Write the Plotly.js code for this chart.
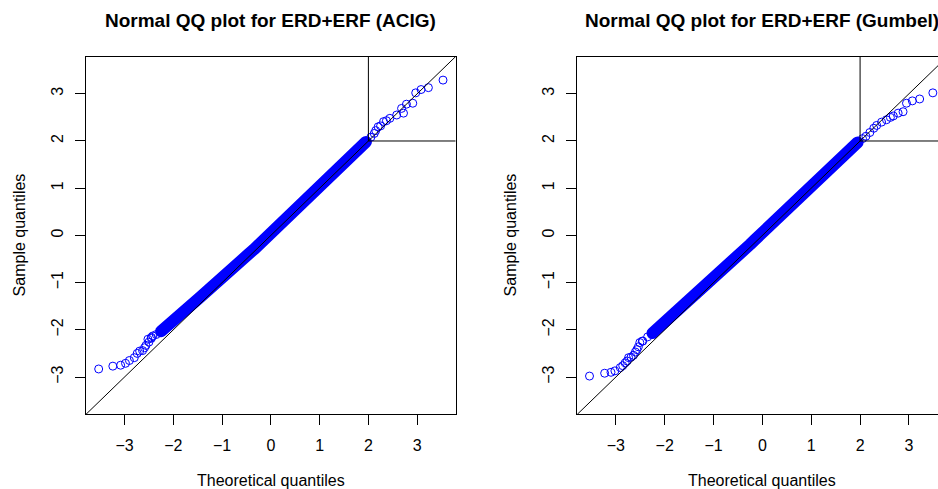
<!DOCTYPE html>
<html>
<head>
<meta charset="utf-8">
<script src="https://cdn.plot.ly/plotly-3.0.1.min.js"></script>
<style>
html,body{margin:0;padding:0;overflow:hidden;background:#fff;width:938px;height:489px;}
#chart{width:960px;height:489px;}
#chart .scatterlayer .js-line{stroke-linecap:round;stroke-linejoin:round;}
</style>
</head>
<body>
<div id="chart"></div>
<script>
// ---- data ----
const panelTitles = ["Normal QQ plot for ERD+ERF (ACIG)", "Normal QQ plot for ERD+ERF (Gumbel)"];
const xAxisTitle = "Theoretical quantiles";
const yAxisTitle = "Sample quantiles";
const tickVals = [-3, -2, -1, 0, 1, 2, 3];
const axisRange = [-3.79, 3.79];
const threshold = 2;
const refLine = [-4, 4];

// dense central band (theoretical, sample)
const bandX = [-2.45,-2.35,-2.25,-2.15,-2.05,-1.95,-1.85,-1.75,-1.65,-1.55,-1.45,-1.35,-1.25,-1.15,-1.05,-0.95,-0.85,-0.75,-0.65,-0.55,-0.45,-0.35,-0.25,-0.15,-0.05,0.05,0.15,0.25,0.35,0.45,0.55,0.65,0.75,0.85,0.95,1.05,1.15,1.25,1.35,1.45,1.55,1.65,1.75,1.85,1.95,2.05];
const acigBandY = [-2.16,-2.10,-2.03,-1.95,-1.86,-1.78,-1.68,-1.59,-1.50,-1.40,-1.31,-1.21,-1.12,-1.03,-0.94,-0.85,-0.76,-0.67,-0.57,-0.48,-0.39,-0.30,-0.20,-0.11,-0.02,0.08,0.18,0.28,0.38,0.48,0.58,0.68,0.78,0.88,0.98,1.08,1.17,1.27,1.37,1.47,1.57,1.67,1.77,1.88,1.98,2.08];
const gumbelBandY = [-2.24,-2.15,-2.07,-1.98,-1.89,-1.80,-1.71,-1.62,-1.53,-1.44,-1.35,-1.26,-1.16,-1.07,-0.97,-0.87,-0.78,-0.68,-0.58,-0.48,-0.39,-0.29,-0.19,-0.09,0.01,0.10,0.20,0.30,0.40,0.50,0.60,0.70,0.80,0.90,1.00,1.10,1.20,1.30,1.39,1.49,1.59,1.68,1.78,1.88,1.97,2.05];

// sparse tail points
const acigTailX = [-3.53,-3.24,-3.08,-2.98,-2.90,-2.80,-2.74,-2.69,-2.63,-2.59,-2.56,-2.52,-2.50,-2.45,-2.42, 2.12,2.15,2.20,2.25,2.31,2.37,2.44,2.58,2.68,2.72,2.78,2.91,2.97,3.08,3.23,3.53];
const acigTailY = [-2.83,-2.77,-2.75,-2.71,-2.65,-2.59,-2.50,-2.45,-2.44,-2.38,-2.33,-2.20,-2.26,-2.18,-2.13, 2.16,2.22,2.30,2.32,2.41,2.43,2.48,2.55,2.69,2.59,2.78,2.80,3.02,3.09,3.13,3.29];
const gumbelTailX = [-3.54,-3.23,-3.10,-3.02,-2.91,-2.86,-2.81,-2.77,-2.74,-2.69,-2.64,-2.60,-2.57,-2.54,-2.51,-2.46, 2.12,2.20,2.28,2.34,2.44,2.54,2.62,2.68,2.78,2.88,2.95,3.07,3.22,3.49];
const gumbelTailY = [-2.98,-2.92,-2.90,-2.87,-2.80,-2.76,-2.70,-2.66,-2.59,-2.58,-2.54,-2.47,-2.42,-2.36,-2.27,-2.24, 2.10,2.18,2.27,2.33,2.40,2.45,2.50,2.53,2.59,2.62,2.80,2.85,2.89,3.02];

// ---- styling ----
const blue = "#0000FF";
const font = "Liberation Sans, Arial, Helvetica, sans-serif";
const W = 960, H = 489;
const coreLo = -2.3, coreHi = 2.0;

function panelTraces(bandY, tailX, tailY, xa, ya) {
  const coreX = [], coreY = [];
  bandX.forEach((v, i) => { if (v >= coreLo && v <= coreHi) { coreX.push(v); coreY.push(bandY[i]); } });
  return [
    {x: coreX, y: coreY, xaxis: xa, yaxis: ya, mode: "lines", type: "scatter",
     line: {color: blue, width: 12}, hoverinfo: "skip", showlegend: false},
    {x: bandX, y: bandY, xaxis: xa, yaxis: ya, mode: "markers", type: "scatter",
     marker: {symbol: "circle-open", size: 8, color: blue, line: {width: 1, color: blue}},
     hoverinfo: "skip", showlegend: false},
    {x: tailX, y: tailY, xaxis: xa, yaxis: ya, mode: "markers", type: "scatter",
     marker: {symbol: "circle-open", size: 8, color: blue, line: {width: 1, color: blue}},
     hoverinfo: "skip", showlegend: false},
    {x: refLine, y: refLine, xaxis: xa, yaxis: ya, mode: "lines", type: "scatter",
     line: {color: "black", width: 1}, hoverinfo: "skip", showlegend: false}
  ];
}

const data = [].concat(
  panelTraces(acigBandY, acigTailX, acigTailY, "x", "y"),
  panelTraces(gumbelBandY, gumbelTailX, gumbelTailY, "x2", "y2")
);

const yDom = [1 - 414.3 / H, 1 - 56.5 / H];
const xDom1 = [86 / W, 455.7 / W];
const xDom2 = [577.3 / W, 947.5 / W];

function axis(dom, anchor, isY) {
  const a = {
    domain: dom, anchor: anchor, range: axisRange, autorange: false,
    tickmode: "array", tickvals: tickVals,
    ticks: "outside", ticklen: 10, tickwidth: 1, tickcolor: "black",
    showline: true, linecolor: "black", linewidth: 1, mirror: true,
    showgrid: false, zeroline: false,
    tickfont: {family: font, size: 16, color: "black"},
    ticklabelstandoff: 6
  };
  if (isY) { a.tickangle = -90; }
  return a;
}

function boxShapes(xr, yr) {
  return [
    {type: "line", xref: xr, yref: yr, x0: threshold, x1: threshold, y0: threshold, y1: axisRange[1], line: {color: "black", width: 1}, layer: "above"},
    {type: "line", xref: xr, yref: yr, x0: threshold, x1: axisRange[1], y0: threshold, y1: threshold, line: {color: "black", width: 1}, layer: "above"}
  ];
}

const titleY = 1 - 20 / H;
const xTitleY = 1 - 480 / H;
const annotations = [
  {text: "<b>" + panelTitles[0] + "</b>", xref: "x domain", yref: "paper", x: 0.5, y: titleY, xanchor: "center", yanchor: "middle", showarrow: false, font: {family: font, size: 19, color: "black"}},
  {text: "<b>" + panelTitles[1] + "</b>", xref: "x2 domain", yref: "paper", x: 0.5, y: titleY, xanchor: "center", yanchor: "middle", showarrow: false, font: {family: font, size: 19, color: "black"}},
  {text: xAxisTitle, xref: "x domain", yref: "paper", x: 0.5, y: xTitleY, xanchor: "center", yanchor: "middle", showarrow: false, font: {family: font, size: 16, color: "black"}},
  {text: xAxisTitle, xref: "x2 domain", yref: "paper", x: 0.5, y: xTitleY, xanchor: "center", yanchor: "middle", showarrow: false, font: {family: font, size: 16, color: "black"}},
  {text: yAxisTitle, xref: "paper", yref: "y domain", x: 19 / W, y: 0.5, xanchor: "center", yanchor: "middle", textangle: -90, showarrow: false, font: {family: font, size: 16, color: "black"}},
  {text: yAxisTitle, xref: "paper", yref: "y2 domain", x: 510 / W, y: 0.5, xanchor: "center", yanchor: "middle", textangle: -90, showarrow: false, font: {family: font, size: 16, color: "black"}}
];

const layout = {
  width: W, height: H,
  margin: {l: 0, r: 0, t: 0, b: 0, pad: 0},
  paper_bgcolor: "white", plot_bgcolor: "white",
  font: {family: font, size: 16, color: "black"},
  showlegend: false,
  xaxis: axis(xDom1, "y", false),
  yaxis: axis(yDom, "x", true),
  xaxis2: axis(xDom2, "y2", false),
  yaxis2: axis(yDom, "x2", true),
  shapes: boxShapes("x", "y").concat(boxShapes("x2", "y2")),
  annotations: annotations
};

Plotly.newPlot("chart", data, layout, {staticPlot: true, displayModeBar: false});
</script>
</body>
</html>
